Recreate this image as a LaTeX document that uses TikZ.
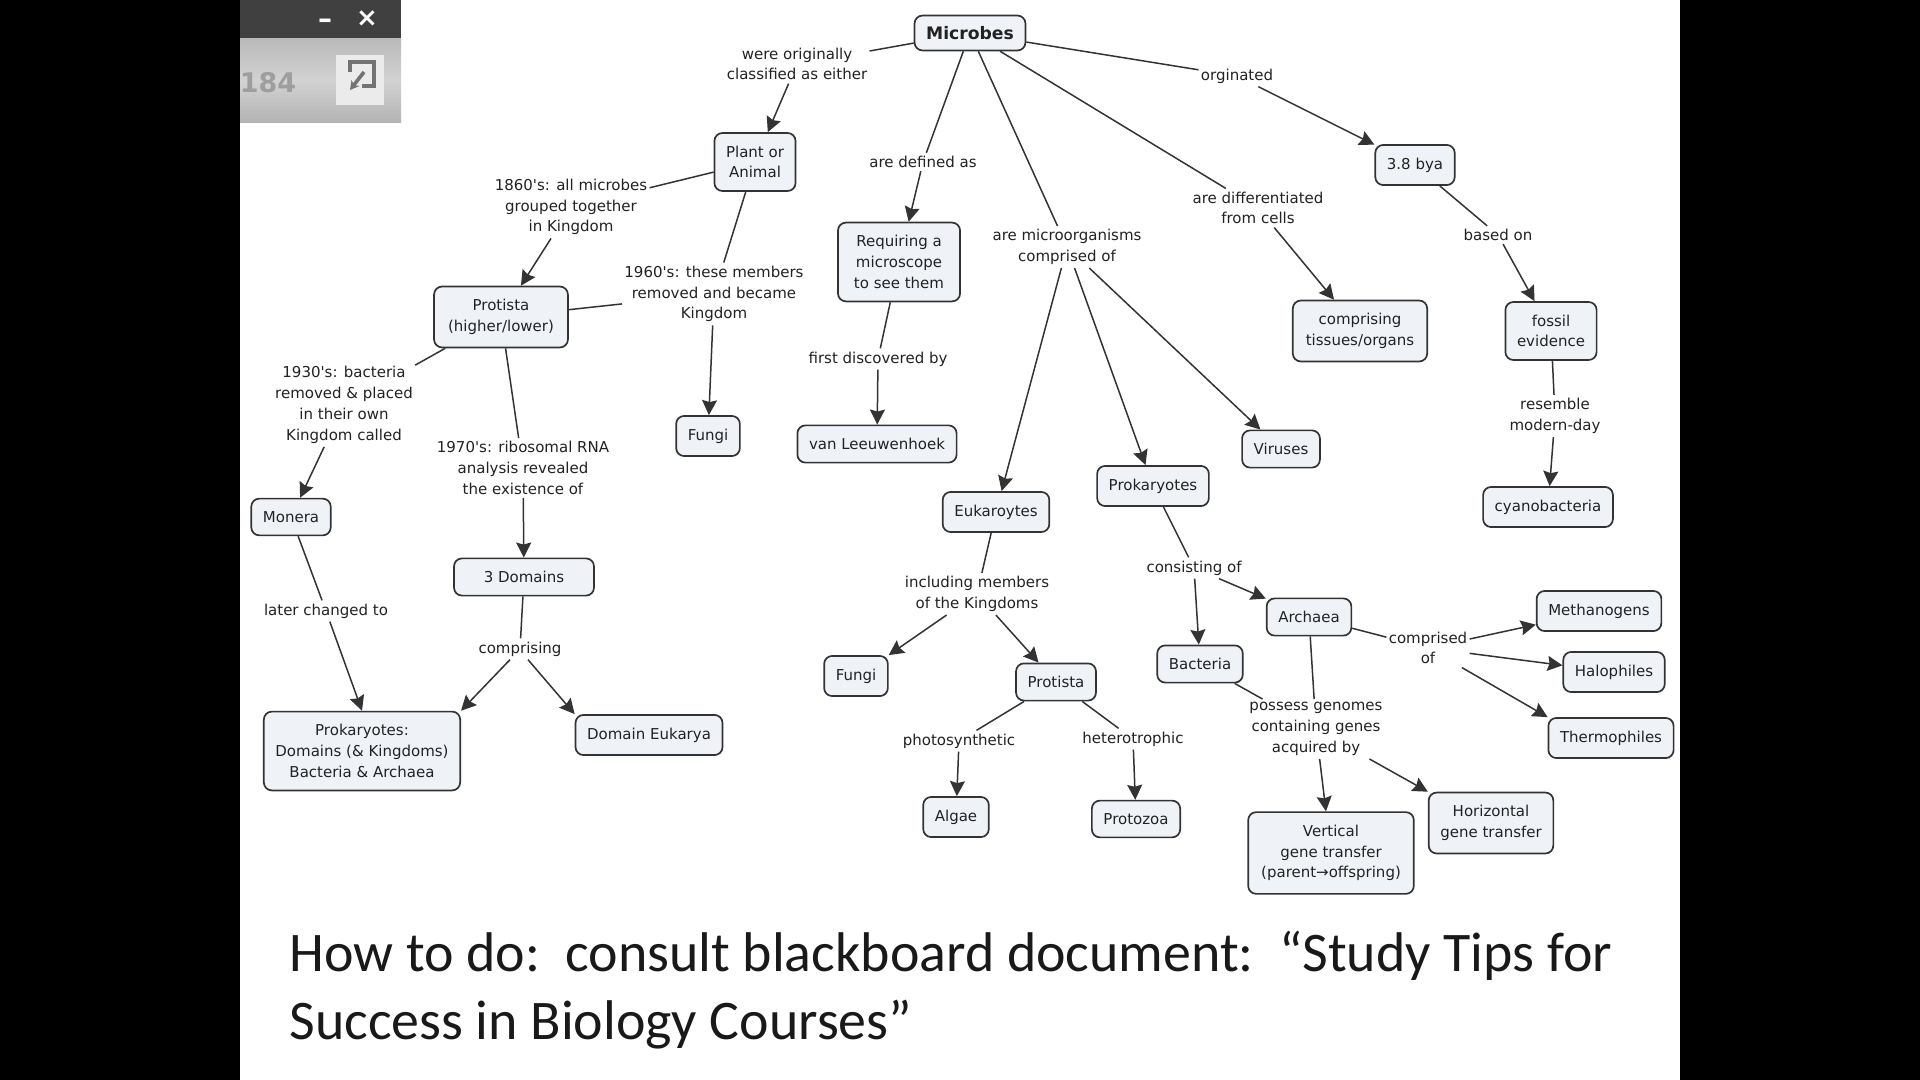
\documentclass[tikz,border=0pt]{standalone}
\usepackage{fontspec}
\setmainfont{DejaVu Sans}
\newfontfamily\slidefont{Carlito}
\usetikzlibrary{arrows.meta}
\definecolor{boxfill}{HTML}{EFF3F8}
\definecolor{boxline}{HTML}{333333}
\definecolor{inktext}{HTML}{222222}
\tikzset{
  concept/.style={draw=boxline, fill=boxfill, rounded corners=4pt, line width=.85pt, align=center,
    inner xsep=5.8pt, inner ysep=6.4pt, text=inktext, font=\fontsize{7.5}{10.4}\selectfont},
  linkword/.style={inner xsep=1pt, inner ysep=1.5pt, align=center, text=inktext,
    font=\fontsize{7.5}{10.4}\selectfont},
  plainlink/.style={draw=boxline, line width=.75pt},
  arrowlink/.style={plainlink, -{Stealth[length=7.5pt,width=7.5pt,inset=1pt]}}
}
\begin{document}
\begin{tikzpicture}[x=.5pt, y=-.5pt]
      \useasboundingbox (0,0) rectangle (1920,1080);
      \fill[black] (0,0) rectangle (1920,1080);
      \fill[white] (240,0) rectangle (1680,1080);
      % window chrome
      \shade[top color=gray!55, bottom color=gray!60, middle color=gray!35] (240,38) rectangle (401,123);
      \fill[black!75] (240,0) rectangle (401,38);
      \node (winmin) at (325,24) [text=white, font=\bfseries\fontsize{14}{14}\selectfont] {\textendash};
      \node (winclose) at (367,19) [text=white, font=\bfseries\fontsize{13}{13}\selectfont] {\symbol{"00D7}};
      \node (pagenum) at (268,83) [text=black!38, font=\bfseries\fontsize{13.5}{14}\selectfont] {184};
      \fill[black!8] (336,55) rectangle (384,105);
      \draw[black!55, line width=1.6pt] (350,72) -- (350,62) -- (374,62) -- (374,86) -- (362,86);
      \draw[black!55, line width=1.8pt, -{Stealth[length=4.5pt,width=5pt]}] (364,72) -- (350,90);
      % concepts
      \node (microbes) at (970,33) [concept, inner ysep=5.4pt, font=\bfseries\fontsize{8.6}{10.4}\selectfont] {Microbes};
      \node (plantanimal) at (755,162) [concept] {Plant or\\Animal};
      \node (bya) at (1415,165) [concept] {3.8 bya};
      \node (microscope) at (899,262) [concept, inner xsep=8pt] {Requiring a\\microscope\\to see them};
      \node (protista) at (501,317) [concept, inner xsep=7pt] {Protista\\(higher/lower)};
      \node (tissues) at (1360,331) [concept, inner xsep=6.5pt] {comprising\\tissues/organs};
      \node (fossil) at (1551,331) [concept] {fossil\\evidence};
      \node (fungitop) at (708,436) [concept] {Fungi};
      \node (leeuwenhoek) at (877,444) [concept] {van Leeuwenhoek};
      \node (viruses) at (1281,449) [concept] {Viruses};
      \node (prokaryotes) at (1153,486) [concept] {Prokaryotes};
      \node (cyano) at (1548,507) [concept] {cyanobacteria};
      \node (monera) at (291,517) [concept] {Monera};
      \node (eukaryotes) at (996,512) [concept] {Eukaroytes};
      \node (domains) at (524,577) [concept, minimum width=70pt] {3 Domains};
      \node (archaea) at (1309,617) [concept] {Archaea};
      \node (methano) at (1599,611) [concept] {Methanogens};
      \node (halo) at (1614,672) [concept] {Halophiles};
      \node (thermo) at (1611,738) [concept] {Thermophiles};
      \node (bacteria) at (1200,664) [concept] {Bacteria};
      \node (fungilow) at (856,676) [concept] {Fungi};
      \node (protistalow) at (1056,682) [concept] {Protista};
      \node (prokdomains) at (362,751) [concept] {Prokaryotes:\\Domains (\& Kingdoms)\\Bacteria \& Archaea};
      \node (eukarya) at (649,735) [concept] {Domain Eukarya};
      \node (algae) at (956,817) [concept] {Algae};
      \node (protozoa) at (1136,819) [concept] {Protozoa};
      \node (vertical) at (1331,853) [concept, inner xsep=6.5pt] {Vertical\\gene transfer\\(parent→offspring)};
      \node (horizontal) at (1491,823) [concept] {Horizontal\\gene transfer};
      % linking words
      \node (wclassified) at (797,64) [linkword] {were originally\\classified as either};
      \node (worginated) at (1237,76) [linkword] {orginated};
      \node (wdefined) at (923,162) [linkword] {are defined as};
      \node (wgrouped) at (571,207) [linkword] {1860\textquotesingle s: all microbes\\grouped together\\in Kingdom};
      \node (wmicro) at (1067,247) [linkword] {are microorganisms\\comprised of};
      \node (wdiff) at (1258,208) [linkword] {are differentiated\\from cells};
      \node (wbased) at (1498,235) [linkword] {based on};
      \node (wremoved) at (714,294) [linkword] {1960\textquotesingle s: these members\\removed and became\\Kingdom};
      \node (wfirst) at (878,359) [linkword] {first discovered by};
      \node (wbacteria) at (344,405) [linkword] {1930\textquotesingle s: bacteria\\removed \& placed\\in their own\\Kingdom called};
      \node (wrna) at (523,468) [linkword] {1970\textquotesingle s: ribosomal RNA\\analysis revealed\\the existence of};
      \node (wresemble) at (1555,416) [linkword] {resemble\\modern-day};
      \node (wconsist) at (1194,568) [linkword] {consisting of};
      \node (wincluding) at (977,594) [linkword] {including members\\of the Kingdoms};
      \node (wlater) at (326,611) [linkword] {later changed to};
      \node (wcomprising) at (520,649) [linkword] {comprising};
      \node (wcomprised) at (1428,648) [linkword] {comprised\\of};
      \node (wgenomes) at (1316,729) [linkword] {possess genomes\\containing genes\\acquired by};
      \node (wphoto) at (959,741) [linkword] {photosynthetic};
      \node (whetero) at (1133,739) [linkword] {heterotrophic};
      % connectors
      \draw[plainlink] (microbes) to (wclassified) (microbes) to (worginated)
      (microbes) to (wdefined) (microbes) to (wmicro) (microbes) to (wdiff)
      (bya) to (wbased) (fossil) to (wresemble)
      (plantanimal) to (wgrouped) (plantanimal) to (wremoved) (protista) to (wremoved)
      (protista) to (wbacteria) (protista) to (wrna)
      (monera) to (wlater) (domains) to (wcomprising) (microscope) to (wfirst)
      (eukaryotes) to (wincluding) (prokaryotes) to (wconsist)
      (protistalow) to (wphoto) (protistalow) to (whetero)
      (archaea) to (wcomprised) (bacteria) to (wgenomes) (archaea) to (wgenomes);
      \draw[arrowlink] (wclassified) to (plantanimal);
      \draw[arrowlink] (worginated) to (bya);
      \draw[arrowlink] (wdefined) to (microscope);
      \draw[arrowlink] (wmicro) to (eukaryotes);
      \draw[arrowlink] (wmicro) to (prokaryotes);
      \draw[arrowlink] (wmicro) to (viruses);
      \draw[arrowlink] (wdiff) to (tissues);
      \draw[arrowlink] (wbased) to (fossil);
      \draw[arrowlink] (wresemble) to (cyano);
      \draw[arrowlink] (wgrouped) to (protista);
      \draw[arrowlink] (wremoved) to (fungitop);
      \draw[arrowlink] (wbacteria) to (monera);
      \draw[arrowlink] (wrna) to (domains);
      \draw[arrowlink] (wlater) to (prokdomains.north);
      \draw[arrowlink] ([xshift=-5pt]wcomprising.south) to (prokdomains.north east);
      \draw[arrowlink] ([xshift=4pt]wcomprising.south) to (eukarya.north west);
      \draw[arrowlink] (wfirst) to (leeuwenhoek);
      \draw[arrowlink] (wincluding) to (fungilow.north east);
      \draw[arrowlink] (wincluding) to (protistalow);
      \draw[arrowlink] (wconsist) to (bacteria);
      \draw[arrowlink] (wconsist) to (archaea);
      \draw[arrowlink] (wphoto) to (algae);
      \draw[arrowlink] (whetero) to (protozoa);
      \draw[arrowlink] (wcomprised) to (methano);
      \draw[arrowlink] (wcomprised) to (halo);
      \draw[arrowlink] (wcomprised) to (thermo.north west);
      \draw[arrowlink] (wgenomes) to (vertical);
      \draw[arrowlink] (wgenomes) to (horizontal.north west);
      % slide text
      \node (slidetext) at (289,931) [anchor=north west, inner sep=0pt, align=left, text=black!90, font=\slidefont\fontsize{27.95}{33.7}\selectfont] {How to do:\ \ consult blackboard document:\ \ “Study Tips for\\Success in Biology Courses”};
\end{tikzpicture}
\end{document}
